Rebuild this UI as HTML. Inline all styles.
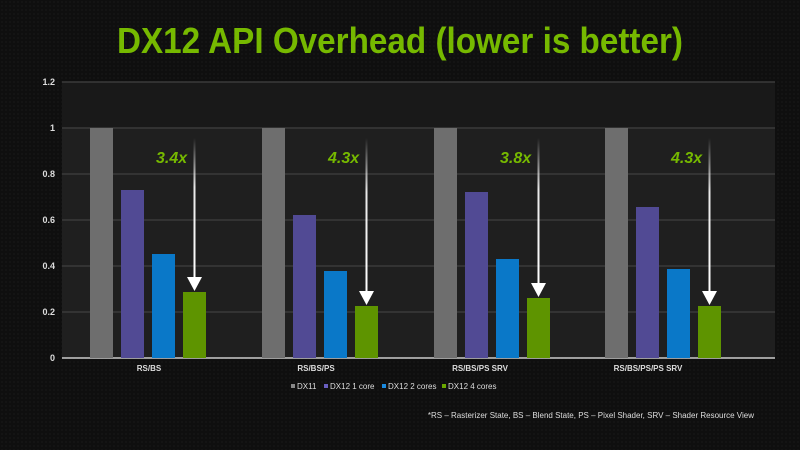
<!DOCTYPE html>
<html><head><style>
html,body{margin:0;padding:0;background:#0e0e0e;}
svg{display:block;}
</style></head><body>
<svg width="800" height="450" viewBox="0 0 800 450" xmlns="http://www.w3.org/2000/svg" font-family="Liberation Sans, sans-serif">
<defs>
<pattern id="tex" width="4" height="4" patternUnits="userSpaceOnUse">
<rect width="4" height="4" fill="#0f0f0f"/><circle cx="2" cy="2" r="1" fill="#161616"/>
</pattern>
<linearGradient id="fade" x1="0" y1="0" x2="0" y2="1">
<stop offset="0" stop-color="#fff" stop-opacity="0"/><stop offset="0.35" stop-color="#fff" stop-opacity="0.9"/><stop offset="1" stop-color="#fff"/>
</linearGradient>
</defs>
<rect width="800" height="450" fill="url(#tex)"/>
<text x="400" y="53" text-anchor="middle" font-size="36" font-weight="bold" fill="#76b900" textLength="566" lengthAdjust="spacingAndGlyphs">DX12 API Overhead (lower is better)</text>
<rect x="62" y="82" width="713" height="46" fill="#191919"/>
<rect x="62" y="128" width="713" height="230" fill="#1f1f1f"/>
<g stroke="#3a3a3a" stroke-width="1.5">
<line x1="62" y1="82" x2="775" y2="82"/>
<line x1="62" y1="128" x2="775" y2="128"/>
<line x1="62" y1="174" x2="775" y2="174"/>
<line x1="62" y1="220" x2="775" y2="220"/>
<line x1="62" y1="266" x2="775" y2="266"/>
<line x1="62" y1="312" x2="775" y2="312"/>
</g>
<line x1="62" y1="358" x2="775" y2="358" stroke="#ccc" stroke-width="1.5"/>
<g font-size="9" font-weight="bold" fill="#ddd" text-anchor="end">
<text x="55" y="85">1.2</text><text x="55" y="131">1</text><text x="55" y="177">0.8</text>
<text x="55" y="223">0.6</text><text x="55" y="269">0.4</text><text x="55" y="315">0.2</text><text x="55" y="361">0</text>
</g>
<g>
<rect x="90" y="128" width="23" height="230" fill="#6e6e6e"/>
<rect x="121" y="190" width="23" height="168" fill="#514a94"/>
<rect x="152" y="254" width="23" height="104" fill="#0a78c8"/>
<rect x="183" y="292" width="23" height="66" fill="#5e9400"/>
<rect x="262" y="128" width="23" height="230" fill="#6e6e6e"/>
<rect x="293" y="215" width="23" height="143" fill="#514a94"/>
<rect x="324" y="271" width="23" height="87" fill="#0a78c8"/>
<rect x="355" y="306" width="23" height="52" fill="#5e9400"/>
<rect x="434" y="128" width="23" height="230" fill="#6e6e6e"/>
<rect x="465" y="192" width="23" height="166" fill="#514a94"/>
<rect x="496" y="259" width="23" height="99" fill="#0a78c8"/>
<rect x="527" y="298" width="23" height="60" fill="#5e9400"/>
<rect x="605" y="128" width="23" height="230" fill="#6e6e6e"/>
<rect x="636" y="207" width="23" height="151" fill="#514a94"/>
<rect x="667" y="269" width="23" height="89" fill="#0a78c8"/>
<rect x="698" y="306" width="23" height="52" fill="#5e9400"/>
</g>
<g stroke="none">
<rect x="193.5" y="138" width="2" height="140" fill="url(#fade)"/><polygon points="187,277 202,277 194.5,291" fill="#fff"/>
<rect x="365.5" y="138" width="2" height="154" fill="url(#fade)"/><polygon points="359,291 374,291 366.5,305" fill="#fff"/>
<rect x="537.5" y="138" width="2" height="146" fill="url(#fade)"/><polygon points="531,283 546,283 538.5,297" fill="#fff"/>
<rect x="708.5" y="138" width="2" height="154" fill="url(#fade)"/><polygon points="702,291 717,291 709.5,305" fill="#fff"/>
</g>
<g font-size="16" font-weight="bold" font-style="italic" fill="#76b900">
<text x="156" y="163">3.4x</text><text x="328" y="163">4.3x</text>
<text x="500" y="163">3.8x</text><text x="671" y="163">4.3x</text>
</g>
<g font-size="8" font-weight="bold" fill="#ddd" text-anchor="middle">
<text x="149" y="371">RS/BS</text><text x="316" y="371">RS/BS/PS</text>
<text x="480" y="371">RS/BS/PS SRV</text><text x="648" y="371">RS/BS/PS/PS SRV</text>
</g>
<g font-size="8" fill="#ddd">
<rect x="291" y="384" width="4" height="4" fill="#888"/><text x="297" y="389">DX11</text>
<rect x="324" y="384" width="4" height="4" fill="#6a5fc0"/><text x="330" y="389">DX12 1 core</text>
<rect x="382" y="384" width="4" height="4" fill="#1a8ae0"/><text x="388" y="389">DX12 2 cores</text>
<rect x="442" y="384" width="4" height="4" fill="#6aa800"/><text x="448" y="389">DX12 4 cores</text>
</g>
<text x="754" y="418" font-size="8" fill="#ddd" text-anchor="end">*RS – Rasterizer State, BS – Blend State, PS – Pixel Shader, SRV – Shader Resource View</text>
</svg>
</body></html>
